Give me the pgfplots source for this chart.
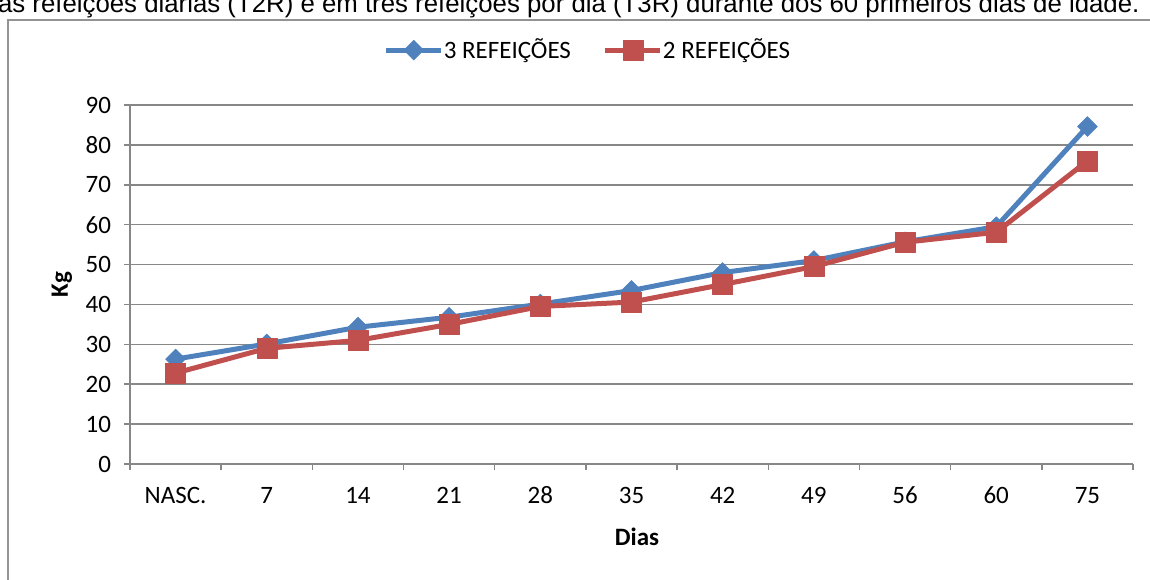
\documentclass[border=0pt]{standalone}
\usepackage{pgfplots}
\pgfplotsset{compat=1.18}
\usepackage{fontspec}
\setmainfont{Carlito}
\newfontfamily\arialfont{Liberation Sans}
\definecolor{serblue}{HTML}{4F81BD}
\definecolor{serred}{HTML}{C0504D}
\definecolor{gridgray}{HTML}{878787}

\pgfplotstableread{
x  tres  duas
0  26.3  22.8
1  30.1  29.0
2  34.3  31.0
3  36.8  35.0
4  40.1  39.5
5  43.5  40.6
6  48.0  45.0
7  51.0  49.5
8  55.7  55.6
9  59.5  58.1
10 84.6  76.0
}\datatable

\begin{document}
\begin{tikzpicture}
\useasboundingbox (0pt,0pt) rectangle (575pt,289.5pt);
\clip (0pt,0pt) rectangle (575pt,289.5pt);
\draw[gridgray!90, line width=0.75pt] (4pt,-10pt) -- (4pt,279.5pt) -- (600pt,279.5pt);
\node[anchor=base east, inner sep=0pt, font=\arialfont\fontsize{12.9}{15}\selectfont] at (570pt,283pt)
  {Figura 1. Peso de bezerros alimentados em duas refeições diárias (T2R) e em três refeições por dia (T3R) durante dos 60 primeiros dias de idade.};
\begin{axis}[
  at={(65pt,57.5pt)}, anchor=south west,
  scale only axis, width=501.5pt, height=179.5pt,
  xmin=-0.5, xmax=10.5, ymin=0, ymax=90,
  ytick={0,10,...,90},
  xtick={0,...,10},
  xticklabels={NASC.,7,14,21,28,35,42,49,56,60,75},
  minor xtick={-0.5,0.5,...,10.5},
  /pgf/number format/assume math mode=true,
  axis lines*=left,
  axis line style={gridgray, line width=0.75pt},
  ymajorgrids,
  grid style={gridgray, line width=0.75pt},
  tick align=outside,
  major tick length=3pt, minor tick length=3pt,
  major x tick style={draw=none},
  minor x tick style={gridgray, line width=0.75pt},
  major y tick style={gridgray, line width=0.75pt},
  tick label style={font=\fontsize{12.5}{15}\selectfont, text=black},
  xticklabel style={yshift=-5pt, text height=8pt, text depth=0pt},
  yticklabel style={xshift=-3pt},
  xlabel={Dias}, ylabel={Kg},
  label style={font=\bfseries\fontsize{12.5}{15}\selectfont},
  xlabel style={at={(axis description cs:0.5055,-0.2033)}, anchor=center},
  ylabel style={at={(axis description cs:-0.0678,0.5)}, anchor=center, rotate=0},
  legend columns=2,
  legend style={draw=none, fill=none, at={(axis description cs:0.4576,1.153)}, anchor=center,
    font=\fontsize{12.5}{15}\selectfont,
    /tikz/every odd column/.append style={column sep=-2pt},
    /tikz/every even column/.append style={column sep=14pt}},
  legend image code/.code={\draw[mark repeat=2,mark phase=2] plot coordinates {(0pt,0pt) (13.75pt,0pt) (27.5pt,0pt)};},
]
\addplot[serblue, line width=2.5pt, line join=round, mark=square*, mark size=3.54pt,
  mark options={solid, rotate=45, fill=serblue, draw=serblue, line width=0.2pt}]
  table[x=x, y=tres] {\datatable};
\addlegendentry{3 REFEIÇÕES}
\addplot[serred, line width=2.5pt, line join=round, mark=square*, mark size=5pt,
  mark options={solid, fill=serred, draw=serred, line width=0.2pt}]
  table[x=x, y=duas] {\datatable};
\addlegendentry{2 REFEIÇÕES}
\end{axis}
\end{tikzpicture}
\end{document}
